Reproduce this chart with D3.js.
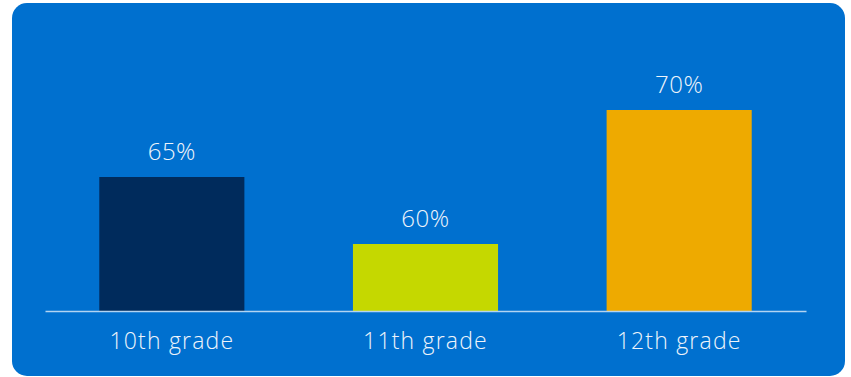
<!DOCTYPE html>
<html>
<head>
<meta charset="utf-8">
<script src="https://cdn.jsdelivr.net/npm/d3@7"></script>
<style>
  html, body { margin: 0; padding: 0; background: #ffffff; }
  svg { display: block; }
  text { font-family: "Open Sans", sans-serif; font-weight: 300; fill: #eef4fb; }
</style>
</head>
<body>
<svg id="chart" width="851" height="377"></svg>
<script>
// Share of students by grade
const grades = ["10th grade", "11th grade", "12th grade"];
const shares = [65, 60, 70];
const barColors = ["#002B5C", "#C5D800", "#EEAA00"];

const svg = d3.select("#chart");

// rounded blue card
svg.append("rect")
  .attr("x", 12).attr("y", 3)
  .attr("width", 833).attr("height", 373)
  .attr("rx", 15).attr("ry", 15)
  .attr("fill", "#0070CF");

const x = d3.scaleBand()
  .domain(grades)
  .range([45, 806])
  .paddingInner(0.428)
  .paddingOuter(0.214);

const baseY = 311;
const y = d3.scaleLinear()
  .domain([55, 75])
  .range([baseY, baseY - 268]);

const data = grades.map((g, i) => ({ grade: g, value: shares[i], color: barColors[i] }));

svg.append("g").selectAll("rect")
  .data(data)
  .join("rect")
  .attr("x", d => x(d.grade))
  .attr("y", d => y(d.value))
  .attr("width", x.bandwidth())
  .attr("height", d => y(55) - y(d.value))
  .attr("fill", d => d.color);

// value labels
svg.append("g").selectAll("text")
  .data(data)
  .join("text")
  .attr("x", d => x(d.grade) + x.bandwidth() / 2)
  .attr("y", d => y(d.value) - 17)
  .attr("text-anchor", "middle")
  .attr("font-size", 24)
  .attr("letter-spacing", 0.5)
  .text(d => d.value + "%");

// baseline axis
const axis = svg.append("g")
  .attr("transform", `translate(0,${baseY})`)
  .call(d3.axisBottom(x).tickSize(0));
axis.select(".domain").attr("stroke", "#B3D4F2").attr("stroke-width", 1.6);
axis.selectAll(".tick text")
  .attr("y", 38)
  .attr("dy", 0)
  .attr("font-size", 23)
  .attr("letter-spacing", 1.2)
  .attr("font-family", "\"Open Sans\", sans-serif")
  .attr("font-weight", 300)
  .attr("fill", "#eef4fb");
</script>
</body>
</html>
